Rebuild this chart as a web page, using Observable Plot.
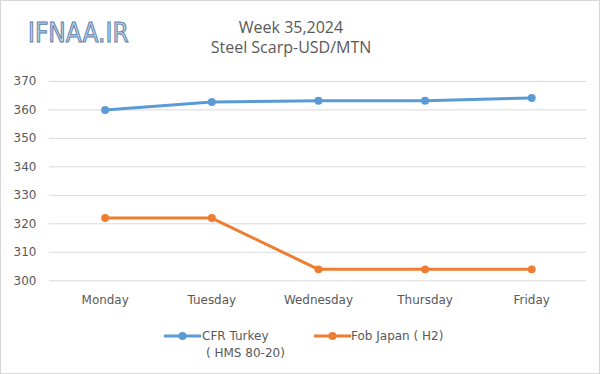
<!DOCTYPE html>
<html>
<head>
<meta charset="utf-8">
<script src="https://cdn.jsdelivr.net/npm/d3@7"></script>
<script src="https://cdn.jsdelivr.net/npm/@observablehq/plot@0.6"></script>
<style>
  html, body { margin: 0; padding: 0; background: #fff; }
  #wrap { position: relative; width: 600px; height: 374px; box-sizing: border-box; border: 1px solid #d6d6d6; background: #fff; overflow: hidden; font-family: "DejaVu Sans", sans-serif; color: #595959; }
  .title { position: absolute; left: 0; width: 580px; text-align: center; font-family: "Open Sans", sans-serif; font-size: 16px; line-height: 16px; color: #595959; white-space: nowrap; }
  #logo { position: absolute; left: 27px; top: 19px; font-family: "DejaVu Sans Condensed", "DejaVu Sans", sans-serif; font-stretch: condensed; font-size: 26px; line-height: 26px; color: #b9d0e8; -webkit-text-stroke: 0.9px #5d80aa; letter-spacing: 0px; }
  #chart { position: absolute; left: 0; top: 60px; }
  .leg { position: absolute; font-size: 12px; line-height: 14px; color: #595959; white-space: nowrap; }
  .legsym { position: absolute; }
</style>
</head>
<body>
<div id="wrap">
  <div id="logo">IFNAA.IR</div>
  <div class="title" id="t1" style="top:18px"></div>
  <div class="title" id="t2" style="top:38px"></div>
  <div id="chart"></div>
  <div id="legend"></div>
</div>
<script>
const titleText = "Week 35,2024";
const subtitleText = "Steel Scarp-USD/MTN";
const days = ["Monday", "Tuesday", "Wednesday", "Thursday", "Friday"];
const seriesNames = ["CFR Turkey ( HMS 80-20)", "Fob Japan ( H2)"];
const cfrTurkey = [360, 362.8, 363.2, 363.2, 364.2];
const fobJapan = [322, 322, 304, 304, 304];
const yTicks = [300, 310, 320, 330, 340, 350, 360, 370];
const colors = ["#5B9BD5", "#ED7D31"];

document.getElementById("t1").textContent = titleText;
document.getElementById("t2").textContent = subtitleText;

const rows = [];
[cfrTurkey, fobJapan].forEach((vals, s) => {
  vals.forEach((v, i) => rows.push({day: days[i], value: v, series: seriesNames[s]}));
});

const chart = Plot.plot({
  width: 600,
  height: 250,
  marginLeft: 48,
  marginRight: 13,
  marginTop: 20,
  marginBottom: 30,
  style: {fontFamily: "DejaVu Sans, sans-serif", fontSize: "12px", color: "#595959", background: "transparent"},
  x: {type: "point", domain: days, padding: 0.5, label: null},
  y: {domain: [300, 370], ticks: yTicks, label: null},
  color: {domain: seriesNames, range: colors},
  marks: [
    Plot.gridY(yTicks, {stroke: "#d9d9d9", strokeOpacity: 1, strokeWidth: 1}),
    Plot.axisY(yTicks, {tickSize: 0, tickPadding: 13, label: null, fill: "#595959"}),
    Plot.axisX({tickSize: 0, tickPadding: 15, label: null, fill: "#595959"}),
    Plot.line(rows, {x: "day", y: "value", z: "series", stroke: "series", strokeWidth: 3, curve: "linear"}),
    Plot.dot(rows, {x: "day", y: "value", fill: "series", r: 4, stroke: null})
  ]
});
document.getElementById("chart").appendChild(chart);

// legend
const legend = document.getElementById("legend");
const legendItems = [
  {sym: 163, lines: ["CFR Turkey", "( HMS 80-20)"], textX: [201, 205]},
  {sym: 313, lines: ["Fob Japan ( H2)"], textX: [350]}
];
legendItems.forEach((item, k) => {
  const svg = d3.create("svg").attr("class", "legsym")
    .attr("width", 38).attr("height", 10)
    .style("left", item.sym + "px").style("top", "330px");
  svg.append("line").attr("x1", 0).attr("x2", 37).attr("y1", 5).attr("y2", 5)
    .attr("stroke", colors[k]).attr("stroke-width", 3);
  svg.append("circle").attr("cx", 18.5).attr("cy", 5).attr("r", 4).attr("fill", colors[k]);
  legend.appendChild(svg.node());
  item.lines.forEach((ln, j) => {
    const d = document.createElement("div");
    d.className = "leg";
    d.textContent = ln;
    d.style.left = item.textX[j] + "px";
    d.style.top = (328 + j * 17) + "px";
    legend.appendChild(d);
  });
});
</script>
</body>
</html>
